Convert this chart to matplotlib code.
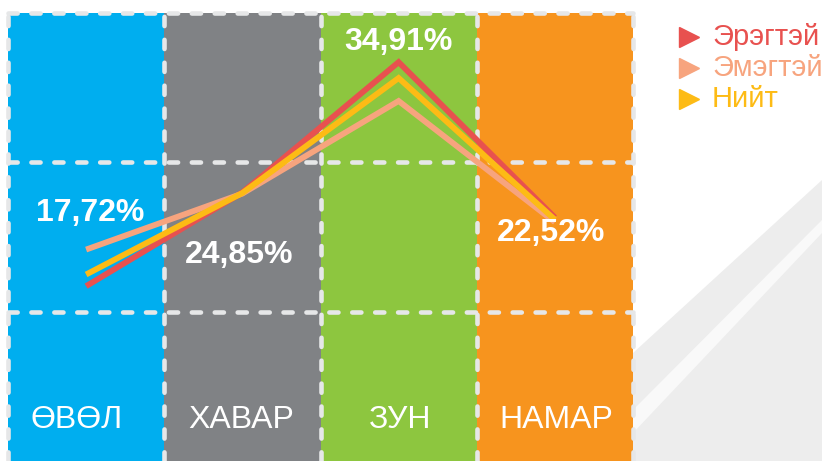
import numpy as np
import matplotlib.pyplot as plt

# seasons and column fills
seasons = ['ӨВӨЛ', 'ХАВАР', 'ЗУН', 'НАМАР']
season_colors = ['#00AEEF', '#808285', '#8DC63F', '#F7941E']

# share by season, %
male = [16.7, 24.9, 36.3, 22.7]
female = [19.9, 24.8, 32.9, 22.3]
total = [17.72, 24.85, 34.91, 22.52]
value_labels = ['17,72%', '24,85%', '34,91%', '22,52%']

series_names = ['Эрэгтэй', 'Эмэгтэй', 'Нийт']
series_colors = ['#E8514F', '#F7A47E', '#FDBB15']

FONT = ['Liberation Sans', 'DejaVu Sans']
W, H = 822, 461
fig = plt.figure(figsize=(W / 100, H / 100), dpi=100)

# light diagonal backdrop on the right
bg = fig.add_axes([0, 0, 1, 1])
bg.set_xlim(0, W)
bg.set_ylim(H, 0)
bg.axis('off')
bg.fill([633, 822, 822, 633], [353, 180, 461, 461], color='#EDEDED', lw=0)
bg.fill([633, 822, 822, 633], [410, 220, 233, 433], color='#F9F9F9', lw=0)

ax = fig.add_axes([8 / W, 0, 625 / W, 448 / H])
lo, hi = 1.4, 40.6
ax.set_xlim(0, 4)
ax.set_ylim(lo, hi)
ax.axis('off')

for i, c in enumerate(season_colors):
    ax.axvspan(i, i + 1, color=c, lw=0, zorder=0)

grid = dict(color='#E6E7E8', lw=3.3, ls=(0, (2.0, 3.0)),
            dash_capstyle='round', clip_on=False, zorder=1)
for xv in range(5):
    ax.axvline(xv, **grid)
for f in (1 / 3, 2 / 3, 1):
    ax.axhline(lo + (hi - lo) * f, **grid)

x = np.arange(4) + 0.5
for vals, col in zip([male, female, total], series_colors):
    ax.plot(x, vals, color=col, lw=4.2, solid_capstyle='butt',
            solid_joinstyle='miter', zorder=3)

# value labels (x in data, y in axes fraction)
lab_pos = [(0.525, 0.554), (1.478, 0.460), (2.496, 0.935), (3.475, 0.509)]
tr = ax.get_xaxis_transform()
for (lx, ly), txt in zip(lab_pos, value_labels):
    ax.text(lx, ly, txt, transform=tr, ha='center', va='center',
            color='white', fontsize=23, fontweight='bold', family=FONT, zorder=4)

cat_x = [0.44, 1.49, 2.51, 3.51]
for cx, name in zip(cat_x, seasons):
    ax.text(cx, 0.0915, name, transform=tr, ha='center', va='center',
            color='white', fontsize=23, family=FONT, zorder=4)

# legend
for k, (name, col) in enumerate(zip(series_names, series_colors)):
    y = 1 - (37 + 31 * k) / H
    fig.lines.append(plt.Line2D([689 / W], [y], marker='>', ms=14, color=col,
                                lw=0, transform=fig.transFigure))
    fig.text(712 / W, y, name, color=col, fontsize=21, family=FONT,
             ha='left', va='center')

fig.savefig('out.png', dpi=100)
